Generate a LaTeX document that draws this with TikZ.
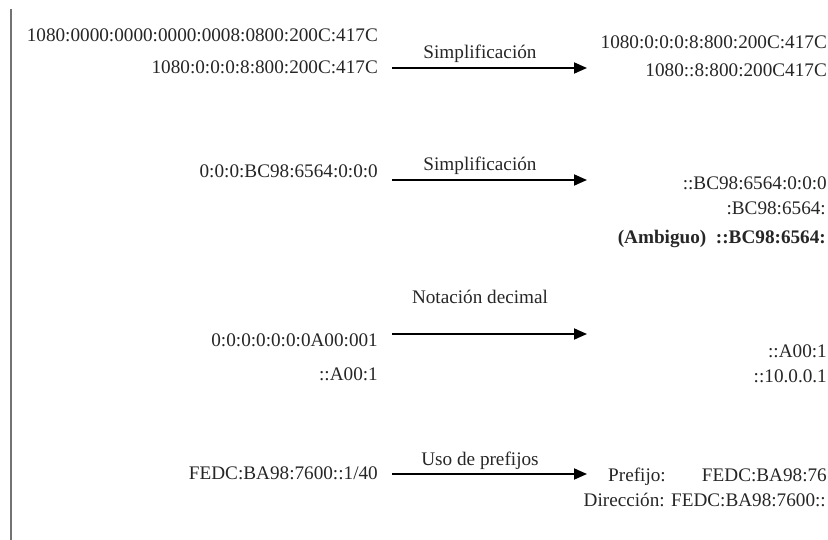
\documentclass[tikz,border=0pt]{standalone}
\usepackage{fontspec}
\setmainfont{Liberation Serif}
\usetikzlibrary{arrows.meta}
\tikzset{
  txt/.style={inner sep=0pt, font=\fontsize{19.2}{23}\selectfont, text=black!85},
  lft/.style={txt, anchor=base east},
  rgt/.style={txt, anchor=base west},
  lbl/.style={txt, anchor=base},
  arr/.style={line width=1.8pt, draw=black, -{Triangle[length=13pt,width=11pt]}},
  bar/.style={line width=2.6pt, draw=black!55}
}
\begin{document}
\begin{tikzpicture}[x=1pt,y=-1pt]
\useasboundingbox (0,0) rectangle (828,540);
% left bar
\coordinate (bt) at (11,9);
\coordinate (bb) at (11,540);
\draw[bar] (bt) -- (bb);

% row 1
\node[lft] (l1a) at (378,42) {1080:0000:0000:0000:0008:0800:200C:417C};
\node[lft] (l1b) at (378,74) {1080:0:0:0:8:800:200C:417C};
\coordinate (a1s) at (392,68);
\coordinate (a1e) at (587,68);
\draw[arr] (a1s) -- (a1e);
\node[lbl] (t1) at (480,59) {Simplificación};
\node[rgt, anchor=base east] (r1a) at (827,49) {1080:0:0:0:8:800:200C:417C};
\node[rgt, anchor=base east] (r1b) at (827,77) {1080::8:800:200C417C};

% row 2
\node[lft] (l2) at (378,178) {0:0:0:BC98:6564:0:0:0};
\coordinate (a2s) at (392,180);
\coordinate (a2e) at (587,180);
\draw[arr] (a2s) -- (a2e);
\node[lbl] (t2) at (480,171) {Simplificación};
\node[rgt, anchor=base east] (r2a) at (827,190) {::BC98:6564:0:0:0};
\node[rgt, anchor=base east] (r2b) at (826,215) {:BC98:6564:};
\node[rgt, anchor=base east, font=\fontsize{19.2}{23}\selectfont\bfseries] (r2c) at (826,244) {(Ambiguo)\ \ ::BC98:6564:};

% row 3
\node[lbl] (t3) at (480,304) {Notación decimal};
\coordinate (a3s) at (392,334);
\coordinate (a3e) at (587,334);
\draw[arr] (a3s) -- (a3e);
\node[lft] (l3a) at (378,346) {0:0:0:0:0:0:0A00:001};
\node[lft] (l3b) at (378,380) {::A00:1};
\node[rgt, anchor=base east] (r3a) at (827,357) {::A00:1};
\node[rgt, anchor=base east] (r3b) at (827,382) {::10.0.0.1};

% row 4
\node[lft] (l4) at (378,479) {FEDC:BA98:7600::1/40};
\coordinate (a4s) at (392,474);
\coordinate (a4e) at (587,474);
\draw[arr] (a4s) -- (a4e);
\node[lbl] (t4) at (480,465) {Uso de prefijos};
\node[rgt] (r4a) at (608,481) {Prefijo:};
\node[rgt, anchor=base east] (r4b) at (827,481) {FEDC:BA98:76};
\node[rgt, anchor=base east] (r4c) at (826,506) {Dirección: FEDC:BA98:7600::};
\end{tikzpicture}
\end{document}
